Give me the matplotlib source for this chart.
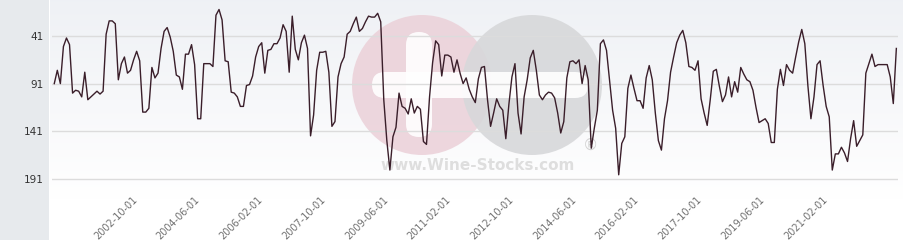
import numpy as np
import pandas as pd
import matplotlib
matplotlib.use("Agg")
import matplotlib.pyplot as plt
from matplotlib.patches import Circle, FancyBboxPatch

# 数据: 排名 (数值越小越靠上)
first_date = "2000-09-08"
last_date = "2023-01-22"
ranks = [
    91, 77, 91, 52, 43, 50, 101, 98, 99, 105, 79, 108, 105, 102, 99, 102, 99,
    39, 25, 25, 28, 87, 70, 63, 80, 77, 66, 57, 67, 121, 121, 117, 74, 85,
    80, 54, 36, 32, 42, 57, 82, 84, 97, 60, 60, 50, 71, 128, 128, 70, 70, 70,
    73, 19, 13, 24, 67, 68, 100, 101, 105, 115, 115, 93, 92, 83, 63, 52, 48,
    80, 56, 55, 49, 49, 43, 29, 36, 79, 20, 55, 66, 48, 40, 54, 146, 124, 77,
    58, 58, 57, 79, 136, 131, 84, 70, 63, 39, 36, 28, 21, 36, 33,
    26, 20, 21, 21, 17, 26, 108, 151, 182, 147, 137, 101, 115, 117, 123, 107,
    122, 115, 118, 152, 155, 105, 69, 46, 50, 83, 61, 61, 63, 79, 66, 80, 91, 85,
    97, 105, 111, 86, 74, 73, 108, 136, 122, 107, 115, 119, 149, 113, 84, 70,
    122, 144, 105, 87, 64, 56, 77, 103, 108, 103, 100, 101, 106, 122, 143, 131,
    85, 68, 67,
    70, 66, 91, 72, 87, 159, 138, 119, 49, 45, 56, 87, 119, 138, 187, 154, 147,
    96, 82, 96, 109, 109, 117, 85, 72, 87, 122, 151, 161, 128, 109, 79, 63, 48, 40,
    35, 48, 73, 74, 77, 67, 107, 122, 135, 108, 78, 76, 94, 110, 103, 84, 105,
    89, 100, 74, 81, 87, 89, 98, 116, 132, 130, 128, 133, 153, 153, 97, 76, 93,
    71, 77, 80, 63, 47, 34, 49, 93, 128, 105, 71, 67, 93, 115, 126, 182, 165,
    165, 158, 164, 173, 149, 130, 157, 151, 145, 80, 70, 60, 73, 71, 71, 71, 71,
    84, 112, 54,
]
dates = pd.date_range(first_date, last_date, periods=len(ranks))

y_ticks = [41, 91, 141, 191]
x_tick_labels = ["2002-10-01", "2004-06-01", "2006-02-01", "2007-10-01",
                 "2009-06-01", "2011-02-01", "2012-10-01", "2014-06-01",
                 "2016-02-01", "2017-10-01", "2019-06-01", "2021-02-01"]

W, H = 904, 240
fig = plt.figure(figsize=(W / 100, H / 100), dpi=100)
fig.patch.set_facecolor("white")

# 背景层 (像素坐标): 左侧灰条, 渐变背景, 水印
bg = fig.add_axes([0, 0, 1, 1], zorder=0)
bg.set_xlim(0, W)
bg.set_ylim(H, 0)
bg.axis("off")
grad = np.linspace(0, 1, 100).reshape(-1, 1)
top_c = np.array([0.937, 0.945, 0.961])
rgb = top_c + (1 - top_c) * grad[..., None]
bg.imshow(rgb, extent=(50, W, 200, 0), aspect="auto", interpolation="bilinear")
bg.add_patch(plt.Rectangle((0, 0), 49, H, color="#e7eaed", lw=0))

# 水印
bg.add_patch(Circle((422, 85), 70, color="#ebd0d8", lw=0, alpha=0.85))
bg.add_patch(Circle((532, 85), 70, color="#d7d8da", lw=0, alpha=0.9))
bg.add_patch(FancyBboxPatch((372, 72), 216, 26, boxstyle="round,pad=0,rounding_size=13",
                            color="white", lw=0, alpha=0.9))
bg.add_patch(FancyBboxPatch((406, 32), 26, 105, boxstyle="round,pad=0,rounding_size=13",
                            color="white", lw=0, alpha=0.9))
bg.text(478, 166, "www.Wine-Stocks.com", ha="center", va="center",
        fontsize=11, fontweight="bold", color="#dedede")
bg.text(591, 145, "®", ha="center", va="center", fontsize=11, color="#d2d2d2")

# 主图
ax = fig.add_axes([52 / W, 1 - 190 / H, (898 - 52) / W, 190 / H], zorder=1)
ax.set_facecolor("none")
ax.plot(dates, ranks, color="#3a1e2a", lw=1.0)

ax.set_ylim(203, 3)
ax.set_yticks(y_ticks)
ax.set_yticklabels([str(v) for v in y_ticks])
ax.grid(axis="y", color="#dcdcdc", lw=1)
ax.grid(axis="x", visible=False)

ax.set_xlim(dates[0] - pd.Timedelta(days=22), dates[-1] + pd.Timedelta(days=16))
ax.set_xticks(pd.to_datetime(x_tick_labels))
ax.set_xticklabels(x_tick_labels, rotation=45, ha="right", rotation_mode="anchor")

for s in ax.spines.values():
    s.set_visible(False)
ax.tick_params(axis="y", length=0, pad=6, labelsize=7.5, labelcolor="#333333")
ax.tick_params(axis="x", length=0, pad=3, labelsize=7, labelcolor="#707070")

fig.savefig("out.png", dpi=100)
